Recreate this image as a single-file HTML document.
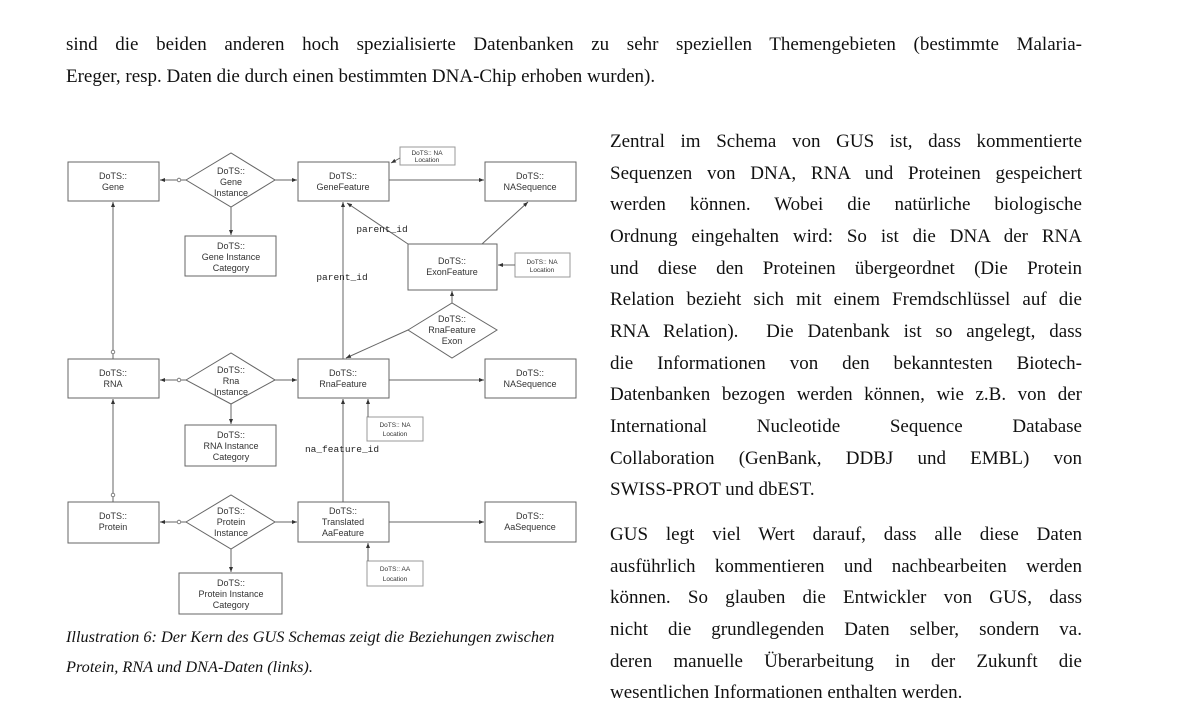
<!DOCTYPE html>
<html><head><meta charset="utf-8"><style>
body{margin:0;width:1199px;height:684px;overflow:hidden;background:#fff;position:relative;font-family:"Liberation Serif",serif;color:#111}
.l{position:absolute;font-size:19px;line-height:22px;text-align:justify;text-align-last:justify;white-space:nowrap}
.r{left:610px;width:472px}
.e{text-align-last:left}
.cap{position:absolute;left:66px;font-style:italic;font-size:16.3px;white-space:nowrap}
svg{position:absolute;left:0;top:0}
svg text{font-family:"Liberation Sans",sans-serif;font-size:9px;fill:#333;text-anchor:middle}
svg .s{font-size:6.5px}
svg .m{font-family:"Liberation Mono",monospace;font-size:9.5px;fill:#222}
</style></head><body>
<div class="l" style="left:66px;width:1016px;top:34px">sind die beiden anderen hoch spezialisierte Datenbanken zu sehr speziellen Themengebieten (bestimmte Malaria-</div>
<div class="l e" style="left:66px;width:1016px;top:66px">Ereger, resp. Daten die durch einen bestimmten DNA-Chip erhoben wurden).</div>

<div class="l r" style="top:131px">Zentral im Schema von GUS ist, dass kommentierte</div>
<div class="l r" style="top:163px">Sequenzen von DNA, RNA und Proteinen gespeichert</div>
<div class="l r" style="top:194px">werden können. Wobei die natürliche biologische</div>
<div class="l r" style="top:226px">Ordnung eingehalten wird: So ist die DNA der RNA</div>
<div class="l r" style="top:258px">und diese den Proteinen übergeordnet (Die Protein</div>
<div class="l r" style="top:289px">Relation bezieht sich mit einem Fremdschlüssel auf die</div>
<div class="l r" style="top:321px">RNA Relation).&nbsp; Die Datenbank ist so angelegt, dass</div>
<div class="l r" style="top:353px">die Informationen von den bekanntesten Biotech-</div>
<div class="l r" style="top:384px">Datenbanken bezogen werden können, wie z.B. von der</div>
<div class="l r" style="top:416px">International Nucleotide Sequence Database</div>
<div class="l r" style="top:448px">Collaboration (GenBank, DDBJ und EMBL) von</div>
<div class="l r e" style="top:479px">SWISS-PROT und dbEST.</div>
<div class="l r" style="top:524px">GUS legt viel Wert darauf, dass alle diese Daten</div>
<div class="l r" style="top:556px">ausführlich kommentieren und nachbearbeiten werden</div>
<div class="l r" style="top:587px">können. So glauben die Entwickler von GUS, dass</div>
<div class="l r" style="top:619px">nicht die grundlegenden Daten selber, sondern va.</div>
<div class="l r" style="top:651px">deren manuelle Überarbeitung in der Zukunft die</div>
<div class="l r e" style="top:682px">wesentlichen Informationen enthalten werden.</div>

<div class="cap" style="top:627px">Illustration 6: Der Kern des GUS Schemas zeigt die Beziehungen zwischen</div>
<div class="cap" style="top:657px">Protein, RNA und DNA-Daten (links).</div>

<svg width="600" height="630" viewBox="0 0 600 630">
<defs><marker id="a" markerWidth="6" markerHeight="6" refX="5" refY="3" orient="auto"><path d="M0,1 L5,3 L0,5z" fill="#333"/></marker></defs>
<g fill="#fff" stroke="#666" stroke-width="1">
<rect x="68" y="162" width="91" height="39"/>
<rect x="298" y="162" width="91" height="39"/>
<rect x="485" y="162" width="91" height="39"/>
<rect x="185" y="236" width="91" height="40"/>
<rect x="408" y="244" width="89" height="46"/>
<rect x="68" y="359" width="91" height="39"/>
<rect x="298" y="359" width="91" height="39"/>
<rect x="485" y="359" width="91" height="39"/>
<rect x="185" y="425" width="91" height="41"/>
<rect x="68" y="502" width="91" height="41"/>
<rect x="298" y="502" width="91" height="40"/>
<rect x="485" y="502" width="91" height="40"/>
<rect x="179" y="573" width="103" height="41"/>
<polygon points="186,180 231,153 275,180 231,207"/>
<polygon points="186,380 231,353 275,380 231,404"/>
<polygon points="186,522 231,495 275,522 231,549"/>
<polygon points="408,330 452,303 497,330 452,358"/>
</g>
<g fill="#fff" stroke="#999" stroke-width="1">
<rect x="400" y="147" width="55" height="18"/>
<rect x="515" y="253" width="55" height="24"/>
<rect x="367" y="417" width="56" height="24"/>
<rect x="367" y="561" width="56" height="25"/>
</g>
<g stroke="#666" stroke-width="1" fill="none" marker-end="url(#a)">
<line x1="186" y1="180" x2="160" y2="180"/>
<line x1="275" y1="180" x2="297" y2="180"/>
<line x1="231" y1="207" x2="231" y2="235"/>
<line x1="389" y1="180" x2="484" y2="180"/>
<line x1="400" y1="158" x2="391" y2="163"/>
<line x1="113" y1="359" x2="113" y2="202"/>
<line x1="113" y1="502" x2="113" y2="399"/>
<line x1="408" y1="244" x2="347" y2="203"/>
<line x1="482" y1="244" x2="528" y2="202"/>
<line x1="515" y1="265" x2="498" y2="265"/>
<line x1="452" y1="303" x2="452" y2="291"/>
<line x1="408" y1="330" x2="346" y2="358"/>
<line x1="343" y1="359" x2="343" y2="202"/>
<line x1="186" y1="380" x2="160" y2="380"/>
<line x1="275" y1="380" x2="297" y2="380"/>
<line x1="231" y1="404" x2="231" y2="424"/>
<line x1="389" y1="380" x2="484" y2="380"/>
<line x1="368" y1="417" x2="368" y2="399"/>
<line x1="343" y1="502" x2="343" y2="399"/>
<line x1="186" y1="522" x2="160" y2="522"/>
<line x1="275" y1="522" x2="297" y2="522"/>
<line x1="231" y1="549" x2="231" y2="572"/>
<line x1="389" y1="522" x2="484" y2="522"/>
<line x1="368" y1="561" x2="368" y2="543"/>
</g>
<g fill="#fff" stroke="#666" stroke-width="0.8">
<circle cx="179" cy="180" r="1.8"/><circle cx="179" cy="380" r="1.8"/><circle cx="179" cy="522" r="1.8"/>
<circle cx="113" cy="352" r="1.8"/><circle cx="113" cy="495" r="1.8"/>
</g>
<text x="113" y="179">DoTS::</text><text x="113" y="190">Gene</text>
<text x="231" y="174">DoTS::</text><text x="231" y="185">Gene</text><text x="231" y="196">Instance</text>
<text x="343" y="179">DoTS::</text><text x="343" y="190">GeneFeature</text>
<text x="530" y="179">DoTS::</text><text x="530" y="190">NASequence</text>
<text class="s" x="427" y="155">DoTS:: NA</text><text class="s" x="427" y="162">Location</text>
<text x="231" y="249">DoTS::</text><text x="231" y="260">Gene Instance</text><text x="231" y="271">Category</text>
<text x="452" y="264">DoTS::</text><text x="452" y="275">ExonFeature</text>
<text class="s" x="542" y="264">DoTS:: NA</text><text class="s" x="542" y="272">Location</text>
<text x="452" y="322">DoTS::</text><text x="452" y="333">RnaFeature</text><text x="452" y="344">Exon</text>
<text class="m" x="382" y="232">parent_id</text>
<text class="m" x="342" y="280">parent_id</text>
<text x="113" y="376">DoTS::</text><text x="113" y="387">RNA</text>
<text x="231" y="373">DoTS::</text><text x="231" y="384">Rna</text><text x="231" y="395">Instance</text>
<text x="343" y="376">DoTS::</text><text x="343" y="387">RnaFeature</text>
<text x="530" y="376">DoTS::</text><text x="530" y="387">NASequence</text>
<text x="231" y="438">DoTS::</text><text x="231" y="449">RNA Instance</text><text x="231" y="460">Category</text>
<text class="s" x="395" y="427">DoTS:: NA</text><text class="s" x="395" y="436">Location</text>
<text class="m" x="342" y="452">na_feature_id</text>
<text x="113" y="519">DoTS::</text><text x="113" y="530">Protein</text>
<text x="231" y="514">DoTS::</text><text x="231" y="525">Protein</text><text x="231" y="536">Instance</text>
<text x="343" y="514">DoTS::</text><text x="343" y="525">Translated</text><text x="343" y="536">AaFeature</text>
<text x="530" y="519">DoTS::</text><text x="530" y="530">AaSequence</text>
<text class="s" x="395" y="571">DoTS:: AA</text><text class="s" x="395" y="581">Location</text>
<text x="231" y="586">DoTS::</text><text x="231" y="597">Protein Instance</text><text x="231" y="608">Category</text>
</svg>
</body></html>
